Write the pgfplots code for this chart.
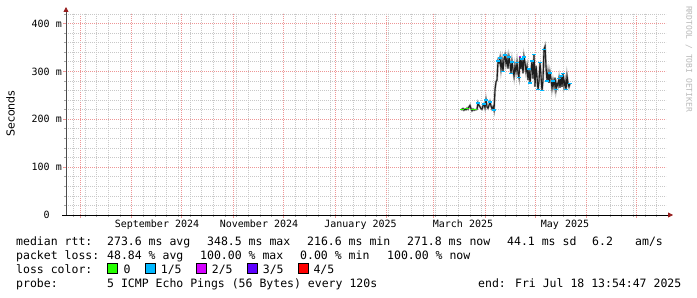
\documentclass[border=0pt]{standalone}
\usepackage{fontspec}
\usepackage{pgfplots}
\pgfplotsset{compat=1.18}
\usepackage{pgfplotstable}
\usetikzlibrary{arrows.meta}
\setmainfont{DejaVu Sans Mono}
\newfontfamily\monofont{DejaVu Sans Mono}
\newfontfamily\sansfont{DejaVu Sans}
\newcommand{\tickfont}{\monofont\fontsize{10bp}{12bp}\selectfont}
\newcommand{\legfont}{\monofont\fontsize{11.5bp}{13.8bp}\selectfont}
\definecolor{mgrid}{RGB}{238,150,150}
\definecolor{mingrid}{RGB}{200,200,200}
\definecolor{arrowred}{RGB}{150,30,30}
\definecolor{loss0}{RGB}{38,255,0}
\definecolor{loss1}{RGB}{0,184,255}
\definecolor{loss2}{RGB}{212,0,255}
\definecolor{loss3}{RGB}{94,0,255}
\definecolor{loss4}{RGB}{255,0,0}

% day (since Jul 23 2024 13:54) vs median rtt (ms)
\pgfplotstableread{
d y
237.0 221
237.6 220
238.2 222
238.8 219
239.4 221
240.0 220
240.6 223
241.2 221
241.8 226
242.4 229
243.0 222
243.6 218
244.2 221
244.8 219
245.4 220
246.0 220
246.6 221
247.2 234
247.8 229
248.4 226
249.0 222
249.6 221
250.2 228
250.8 232
251.4 224
252.0 240
252.6 226
253.2 223
253.8 229
254.4 236
255.0 228
255.6 222
256.2 226
256.8 219
257.4 262
258.0 278
258.6 282
259.2 322
259.8 318
260.4 328
261.0 305
261.6 322
262.2 300
262.8 326
263.4 334
264.0 316
264.6 327
265.2 306
265.8 330
266.4 318
267.0 296
267.6 320
268.2 304
268.8 290
269.4 312
270.0 300
270.6 318
271.2 296
271.8 287
272.4 331
273.0 305
273.6 326
274.2 296
274.8 330
275.4 318
276.0 300
276.6 310
277.2 282
277.8 305
278.4 276
279.0 300
279.6 322
280.2 285
280.8 335
281.4 268
282.0 312
282.6 289
283.2 262
283.8 280
284.4 318
285.0 290
285.6 260
286.2 283
286.8 346
287.4 352
288.0 310
288.6 280
289.2 297
289.8 276
290.4 297
291.0 285
291.6 265
292.2 280
292.8 268
293.4 287
294.0 262
294.6 275
295.2 270
295.8 285
296.4 266
297.0 290
297.6 268
298.2 295
298.8 270
299.4 280
300.0 262
300.6 290
301.2 275
301.8 268
302.4 275
}\median

\pgfplotstableread{
d y
247.2 234
250.8 232
252.0 240
254.4 236
256.8 219
259.2 322
260.4 328
262.2 300
263.4 334
265.8 330
267.0 296
267.6 320
270.6 318
271.8 287
273.6 326
274.8 330
277.8 305
278.4 276
279.6 322
280.8 335
283.2 262
284.4 318
285.6 260
286.8 346
288.6 280
290.4 297
292.2 280
294.0 262
295.8 285
297.0 290
298.2 295
300.0 262
302.4 275
}\cyanpts

\pgfplotstableread{
d y
237.6 220
240.6 223
244.2 221
245.4 220
}\greenpts

\pgfplotstableread{
d y
272.4 331
}\magpts

\begin{document}
\begin{tikzpicture}[x=1bp,y=1bp]
\path[use as bounding box] (0,0) rectangle (697,297);
\begin{axis}[
  at={(66bp,82bp)}, anchor=south west,
  scale only axis, width=600bp, height=202bp,
  xmin=0, xmax=360, ymin=0, ymax=422,
  axis lines=left,
  x axis line style={-{Triangle[length=5bp,width=5bp,color=arrowred]}, shorten >=-7bp, shorten <=-4bp, line width=0.8bp, black},
  y axis line style={-{Triangle[length=5bp,width=5bp,color=arrowred]}, shorten >=-6bp, line width=0.8bp, black!70},
  xtick={8.42,39.42,69.42,100.42,130.42,161.42,192.42,220.42,251.42,281.42,312.42,342.42},
  xticklabels={},
  minor xtick={4.42,11.42,18.42,25.42,32.42,39.42,46.42,53.42,60.42,67.42,74.42,81.42,88.42,95.42,102.42,109.42,116.42,123.42,130.42,137.42,144.42,151.42,158.42,165.42,172.42,179.42,186.42,193.42,200.42,207.42,214.42,221.42,228.42,235.42,242.42,249.42,256.42,263.42,270.42,277.42,284.42,291.42,298.42,305.42,312.42,319.42,326.42,333.42,340.42,347.42,354.42},
  extra x ticks={54.6,115.8,176.7,238.2,299.4},
  extra x tick labels={September 2024,November 2024,January 2025,March 2025,May 2025},
  extra x tick style={grid=none, major tick length=0pt, xticklabel style={yshift=-1bp}},
  ytick={0,100,200,300,400},
  yticklabels={0\hphantom{ m},100 m,200 m,300 m,400 m},
  minor ytick={20,40,60,80,120,140,160,180,220,240,260,280,320,340,360,380,420},
  grid=both,
  major grid style={draw=mgrid, line width=0.7bp, dash pattern=on 1bp off 1bp},
  minor grid style={draw=mingrid, line width=0.7bp, dash pattern=on 1bp off 1bp},
  tick align=outside,
  major tick length=3bp, minor tick length=2bp,
  major tick style={draw=mgrid, line width=0.7bp},
  minor tick style={draw=gray!70, line width=0.7bp},
  tick label style={font=\tickfont, black},
  xticklabel style={inner sep=0pt, anchor=north, yshift=-4bp},
  yticklabel style={inner sep=0pt, anchor=east, xshift=-1bp},
  clip=true,
]
\addplot[gray!60, line width=2.2bp] table[x=d,y=y] {\median};
\addplot[black!88, line width=1.1bp] table[x=d,y=y] {\median};
\addplot[only marks, mark=-, mark size=1.6bp, mark options={draw=loss1, line width=1.4bp}] table[x=d,y=y] {\cyanpts};
\addplot[only marks, mark=-, mark size=1.6bp, mark options={draw=loss0, line width=1.4bp}] table[x=d,y=y] {\greenpts};
\addplot[only marks, mark=-, mark size=1.4bp, mark options={draw=loss2, line width=1.4bp}] table[x=d,y=y] {\magpts};
\end{axis}
% axis title
\node[rotate=90, inner sep=0pt, font=\sansfont\fontsize{11bp}{13bp}\selectfont] at (10.5,183.5) {Seconds};
% watermark
\node[rotate=-90, inner sep=0pt, text=gray!55, font=\monofont\fontsize{8bp}{9bp}\selectfont] at (689,238) {RRDTOOL / TOBI OETIKER};
% legend
\begin{scope}[every node/.style={anchor=base west, inner sep=0pt, font=\legfont}]
\node at (16,51.3) {median rtt:};
\node at (107,51.3) {273.6 ms avg};
\node at (207,51.3) {348.5 ms max};
\node at (307,51.3) {216.6 ms min};
\node at (407,51.3) {271.8 ms now};
\node at (507,51.3) {44.1 ms sd};
\node at (592,51.3) {6.2};
\node at (635,51.3) {am/s};
\node at (16,37.5) {packet loss:};
\node at (107,37.5) {48.84 \% avg};
\node at (200,37.5) {100.00 \% max};
\node at (300,37.5) {0.00 \% min};
\node at (387,37.5) {100.00 \% now};
\node at (16,23.6) {loss color:};
\node at (123.3,23.6) {0};
\node at (160.7,23.6) {1/5};
\node at (211.7,23.6) {2/5};
\node at (262.7,23.6) {3/5};
\node at (313.3,23.6) {4/5};
\node at (16,9.7) {probe:};
\node at (107,9.7) {5 ICMP Echo Pings (56 Bytes) every 120s};
\node at (478,9.7) {end: Fri Jul 18 13:54:47 2025};
\end{scope}
\draw[fill=loss0, line width=0.8bp] (107.8,23.2) rectangle (117.8,33.2);
\draw[fill=loss1, line width=0.8bp] (145.3,23.2) rectangle (155.3,33.2);
\draw[fill=loss2, line width=0.8bp] (196.0,23.2) rectangle (206.0,33.2);
\draw[fill=loss3, line width=0.8bp] (247.0,23.2) rectangle (257.0,33.2);
\draw[fill=loss4, line width=0.8bp] (298.0,23.2) rectangle (308.0,33.2);
\end{tikzpicture}
\end{document}
